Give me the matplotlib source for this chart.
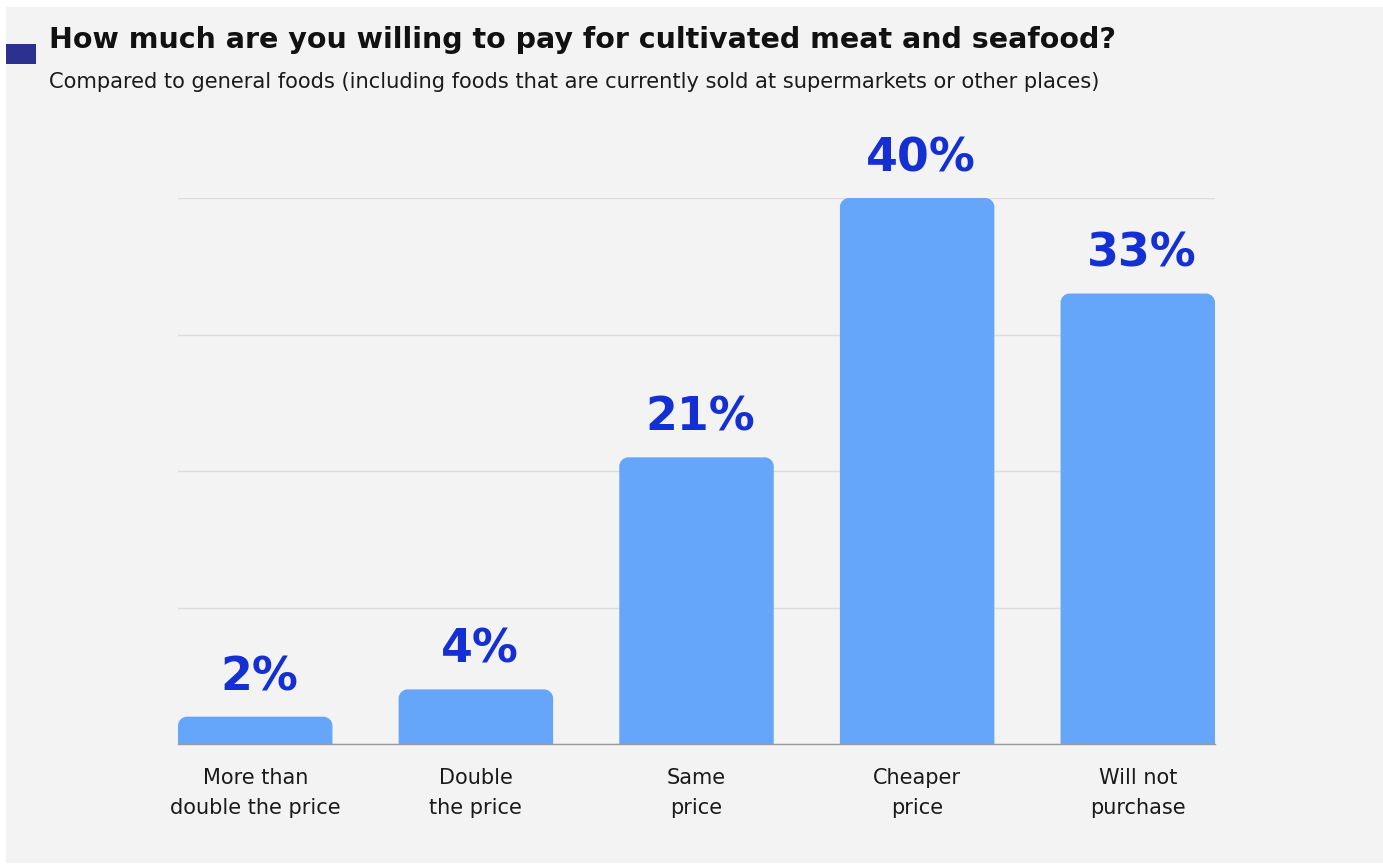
import matplotlib
matplotlib.use("Agg")
import matplotlib.pyplot as plt
from matplotlib.path import Path
from matplotlib.patches import PathPatch, Rectangle

categories = ["More than\ndouble the price", "Double\nthe price", "Same\nprice",
              "Cheaper\nprice", "Will not\npurchase"]
values = [2, 4, 21, 40, 33]
value_labels = ["2%", "4%", "21%", "40%", "33%"]

title = "How much are you willing to pay for cultivated meat and seafood?"
subtitle = ("Compared to general foods (including foods that are currently sold "
            "at supermarkets or other places)")

BG = "#f3f3f3"
BAR = "#66a6fa"
LABEL = "#1530d2"
MARK = "#2c3190"

plt.rcParams["font.family"] = ["DejaVu Sans"]

fig = plt.figure(figsize=(13.83, 8.66), dpi=100)
fig.patch.set_facecolor("white")
fig.add_artist(Rectangle((6 / 1383, 3 / 866), 1 - 6 / 1383, 1 - 10 / 866,
                         transform=fig.transFigure, facecolor=BG,
                         edgecolor="none", zorder=-10))

ax = fig.add_axes([178 / 1383, 122 / 866, (1215 - 178) / 1383, (744 - 198) / 866])
ax.set_facecolor("none")

width = 0.7
x = list(range(len(values)))
bars = ax.bar(x, values, width=width, color=BAR, zorder=3)
ax.set_xlim(-width / 2, len(values) - 1 + width / 2)
ax.set_ylim(0, 40)


def rounded_top(rect, r_px=9):
    """Replace a bar rectangle with a path whose top corners are rounded."""
    x0, y0 = rect.get_x(), rect.get_y()
    w, h = rect.get_width(), rect.get_height()
    bbox = ax.get_position()
    fw, fh = fig.get_size_inches() * fig.dpi
    px_x = bbox.width * fw / (ax.get_xlim()[1] - ax.get_xlim()[0])
    px_y = bbox.height * fh / (ax.get_ylim()[1] - ax.get_ylim()[0])
    rx = min(r_px / px_x, w / 2)
    ry = min(r_px / px_y, h)
    k = 0.5523
    x1, y1 = x0 + w, y0 + h
    verts = [
        (x0, y0), (x0, y1 - ry),
        (x0, y1 - ry + k * ry), (x0 + rx - k * rx, y1), (x0 + rx, y1),
        (x1 - rx, y1),
        (x1 - rx + k * rx, y1), (x1, y1 - ry + k * ry), (x1, y1 - ry),
        (x1, y0), (x0, y0),
    ]
    codes = [Path.MOVETO, Path.LINETO,
             Path.CURVE4, Path.CURVE4, Path.CURVE4,
             Path.LINETO,
             Path.CURVE4, Path.CURVE4, Path.CURVE4,
             Path.LINETO, Path.CLOSEPOLY]
    return PathPatch(Path(verts, codes), facecolor=BAR, edgecolor="none", zorder=3)


for rect in bars.patches:
    rect.set_visible(False)
    ax.add_patch(rounded_top(rect))

for xi, v, lab in zip(x, values, value_labels):
    ax.annotate(lab, (xi, v), xytext=(3, 12), textcoords="offset points",
                ha="center", va="bottom", fontsize=33, fontweight="bold",
                color=LABEL, clip_on=False)

ax.set_yticks([0, 10, 20, 30, 40])
ax.yaxis.grid(True, color="#dcdcdc", linewidth=1.0, zorder=0)
ax.set_axisbelow(True)
ax.tick_params(axis="y", left=False, labelleft=False)
ax.tick_params(axis="x", bottom=False, pad=14)
ax.set_xticks(x)
ax.set_xticklabels(categories, fontsize=15, color="#1a1a1a", linespacing=1.6)
for side in ["top", "right", "left"]:
    ax.spines[side].set_visible(False)
ax.spines["bottom"].set_color("#9a9a9a")
ax.spines["bottom"].set_linewidth(1.0)
ax.spines["bottom"].set_zorder(4)

fig.add_artist(Rectangle((6 / 1383, 1 - 64 / 866), 30 / 1383, 20 / 866,
                         transform=fig.transFigure, facecolor=MARK,
                         edgecolor="none"))
fig.text(49 / 1383, 1 - 40 / 866, title, fontsize=20.5, fontweight="bold",
         color="#111111", ha="left", va="center")
fig.text(49 / 1383, 1 - 82 / 866, subtitle, fontsize=15.1,
         color="#1a1a1a", ha="left", va="center")

fig.savefig("out.png", dpi=100, facecolor=fig.get_facecolor())
